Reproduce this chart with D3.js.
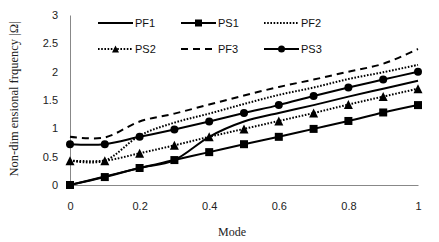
<!doctype html>
<html lang="en">
<head>
<meta charset="utf-8">
<title>Non-dimensional frequency vs mode</title>
<script src="https://cdn.jsdelivr.net/npm/d3@7"></script>
<style>
  body { margin: 0; background: #fff; }
  .tick text { font: 11px "Liberation Sans", "Open Sans", sans-serif; fill: #222; }
  .axis-title { font-family: "Liberation Serif", "DejaVu Serif", serif; font-size: 12px; fill: #222; }
  .y-title { font-size: 12.5px; }
  .legend text { font: 11px "Liberation Sans", "Open Sans", sans-serif; fill: #111; }
</style>
</head>
<body>
<div id="viz"></div>
<script>
// x values (mode)
var modes = [0, 0.1, 0.2, 0.3, 0.4, 0.5, 0.6, 0.7, 0.8, 0.9, 1];

// series values
var PF1 = [0, 0.15, 0.3, 0.44, 0.85, 1.12, 1.27, 1.41, 1.56, 1.7, 1.84];
var PS1 = [0, 0.14, 0.3, 0.44, 0.58, 0.72, 0.85, 0.99, 1.13, 1.28, 1.41];
var PF2 = [0.43, 0.43, 0.87, 1.1, 1.26, 1.43, 1.59, 1.72, 1.87, 1.99, 2.12];
var PS2 = [0.43, 0.43, 0.56, 0.7, 0.85, 0.99, 1.13, 1.27, 1.42, 1.56, 1.7];
var PF3 = [0.85, 0.84, 1.12, 1.26, 1.42, 1.58, 1.73, 1.86, 2.0, 2.14, 2.4];
var PS3 = [0.72, 0.72, 0.85, 0.98, 1.12, 1.27, 1.41, 1.57, 1.72, 1.86, 2.0];

var xTicks = [0, 0.2, 0.4, 0.6, 0.8, 1];
var yTicks = [0, 0.5, 1, 1.5, 2, 2.5, 3];

var seriesNames = ["PF1", "PS1", "PF2", "PS2", "PF3", "PS3"];
var seriesValues = [PF1, PS1, PF2, PS2, PF3, PS3];

// line style per series
var styles = {
  PF1: {dash: null, marker: null},
  PS1: {dash: null, marker: "square"},
  PF2: {dash: "1.6,1.6", marker: null},
  PS2: {dash: "1.6,1.6", marker: "triangle"},
  PF3: {dash: "7,5", marker: null},
  PS3: {dash: null, marker: "circle"}
};

var w = 439, h = 242;
var margin = {top: 15, right: 21, bottom: 57, left: 70};
var width = w - margin.left - margin.right,
    height = h - margin.top - margin.bottom;

var svg = d3.select("#viz").append("svg")
  .attr("width", w)
  .attr("height", h);

var g = svg.append("g")
  .attr("transform", "translate(" + margin.left + "," + margin.top + ")");

var x = d3.scaleLinear().domain([0, 1]).range([0, width]);
var y = d3.scaleLinear().domain([0, 3]).range([height, 0]);

// axes, no tick marks
var yAxis = g.append("g")
  .call(d3.axisLeft(y).tickValues(yTicks).tickSize(0).tickPadding(12).tickFormat(d3.format("")));
yAxis.select(".domain").attr("stroke", "#888");

var xAxis = g.append("g")
  .attr("transform", "translate(0," + height + ")")
  .call(d3.axisBottom(x).tickValues(xTicks).tickSize(0).tickPadding(17).tickFormat(d3.format("")));
xAxis.select(".domain").attr("stroke", "#888");

// axis titles
svg.append("text")
  .attr("class", "axis-title")
  .attr("x", 232)
  .attr("y", 236)
  .attr("text-anchor", "middle")
  .text("Mode");

svg.append("text")
  .attr("class", "axis-title y-title")
  .attr("transform", "translate(18,99)rotate(-90)")
  .attr("text-anchor", "middle")
  .text("Non-dim ensional frquency |Ω|");

var line = d3.line()
  .x(function(d, i) { return x(modes[i]); })
  .y(function(d) { return y(d); })
  .curve(d3.curveCatmullRom.alpha(0));

function drawMarker(sel, type, cx, cy, s) {
  if (type === "square") {
    sel.append("rect")
      .attr("x", cx - s / 2).attr("y", cy - s / 2)
      .attr("width", s).attr("height", s)
      .attr("fill", "#000");
  } else if (type === "circle") {
    sel.append("circle")
      .attr("cx", cx).attr("cy", cy).attr("r", s / 2)
      .attr("fill", "#000");
  } else if (type === "triangle") {
    sel.append("path")
      .attr("d", "M" + cx + "," + (cy - s / 2) + "L" + (cx + s / 2) + "," + (cy + s / 2) + "L" + (cx - s / 2) + "," + (cy + s / 2) + "Z")
      .attr("fill", "#000");
  }
}

seriesNames.forEach(function(name, k) {
  var st = styles[name];
  var vals = seriesValues[k];
  g.append("path")
    .datum(vals)
    .attr("fill", "none")
    .attr("stroke", "#000")
    .attr("stroke-width", 2)
    .attr("stroke-dasharray", st.dash)
    .attr("d", line);
  if (st.marker) {
    var mg = g.append("g");
    vals.forEach(function(v, i) {
      drawMarker(mg, st.marker, x(modes[i]), y(v), st.marker === "triangle" ? 9 : 8);
    });
  }
});

// legend, 3 columns x 2 rows
var legendCols = [98, 181, 264];
var legendRows = [23, 49];
var legend = svg.append("g").attr("class", "legend");
seriesNames.forEach(function(name, k) {
  var st = styles[name];
  var lx = legendCols[k % 3], ly = legendRows[Math.floor(k / 3)];
  var item = legend.append("g");
  item.append("line")
    .attr("x1", lx).attr("x2", lx + 35)
    .attr("y1", ly).attr("y2", ly)
    .attr("stroke", "#000")
    .attr("stroke-width", 2)
    .attr("stroke-dasharray", st.dash);
  if (st.marker) drawMarker(item, st.marker, lx + 17.5, ly, 7);
  item.append("text")
    .attr("x", lx + 37)
    .attr("y", ly)
    .attr("dy", "0.35em")
    .text(name);
});
</script>
</body>
</html>
